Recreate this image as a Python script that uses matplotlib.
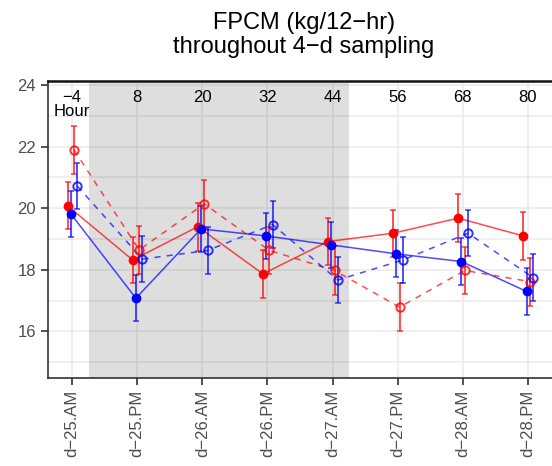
import matplotlib
matplotlib.use("Agg")
import matplotlib.pyplot as plt
import matplotlib.transforms as mtransforms
import numpy as np

plt.rcParams['font.family'] = ['Liberation Sans', 'DejaVu Sans']

# sampling times
days = ['d\u221225.AM', 'd\u221225.PM', 'd\u221226.AM', 'd\u221226.PM',
        'd\u221227.AM', 'd\u221227.PM', 'd\u221228.AM', 'd\u221228.PM']
hours = ['\u22124', '8', '20', '32', '44', '56', '68', '80']

# FPCM means and SE, four groups
red_solid = [20.08, 18.32, 19.40, 17.87, 18.92, 19.19, 19.68, 19.10]
red_solid_se = [0.76, 0.76, 0.78, 0.78, 0.75, 0.76, 0.78, 0.78]
blue_solid = [19.82, 17.08, 19.33, 19.10, 18.81, 18.52, 18.27, 17.30]
blue_solid_se = [0.75, 0.74, 0.75, 0.75, 0.74, 0.76, 0.77, 0.76]
red_open = [21.89, 18.65, 20.14, 18.63, 17.98, 16.79, 17.98, 17.62]
red_open_se = [0.77, 0.78, 0.78, 0.77, 0.78, 0.77, 0.77, 0.78]
blue_open = [20.72, 18.35, 18.63, 19.47, 17.67, 18.32, 19.19, 17.75]
blue_open_se = [0.75, 0.75, 0.76, 0.76, 0.75, 0.76, 0.75, 0.76]

x = np.arange(len(days))

fig = plt.figure(figsize=(5.52, 4.66), dpi=100)
ax = fig.add_axes([48 / 552, 1 - 377.7 / 466, 1 - 48 / 552, (377.7 - 81) / 466])

ax.set_xlim(-0.37, 7.37)
ax.set_ylim(14.5, 24.13)

# grid
ax.set_yticks([16, 18, 20, 22, 24])
ax.set_yticks([15, 17, 19, 21, 23], minor=True)
ax.set_xticks(x)
ax.set_xticklabels(days, rotation=90, fontsize=12, color='#4d4d4d')
ax.tick_params(axis='y', which='minor', length=0)
ax.grid(True, which='both', color='#ebebeb', linewidth=1.1, zorder=0)
ax.set_axisbelow(True)

# sampling window shading
ax.axvspan(0.26, 4.26, color='black', alpha=0.13, lw=0, zorder=1)

series = [
    (red_solid, red_solid_se, '#ff0000', '-', True, -0.07),
    (blue_solid, blue_solid_se, '#0000ff', '-', True, -0.02),
    (red_open, red_open_se, '#ff0000', '--', False, 0.03),
    (blue_open, blue_open_se, '#0000ff', '--', False, 0.08),
]
for vals, se, col, ls, filled, dx in series:
    xs = x + dx
    ax.plot(xs, vals, color=col, ls=ls, lw=1.1, alpha=0.7, zorder=3,
            dashes=(4, 4) if ls == '--' else (None, None))
    ax.errorbar(xs, vals, yerr=se, fmt='none', ecolor=col, elinewidth=1.3,
                capsize=2, capthick=1.1, alpha=0.75, zorder=4)
    if filled:
        ax.plot(xs, vals, 'o', color=col, ms=6, zorder=5)
    else:
        ax.plot(xs, vals, 'o', mfc='none', mec=col, mew=1.4, ms=6,
                alpha=0.8, zorder=5)

# hour labels along the top
trans = mtransforms.blended_transform_factory(ax.transData, ax.transAxes)
for xi, h in zip(x, hours):
    ax.text(xi, 0.946, h, transform=trans, ha='center', va='center',
            fontsize=12, color='black', zorder=6)
ax.text(x[0], 0.897, 'Hour', transform=trans, ha='center', va='center',
        fontsize=12, color='black', zorder=6)

ax.tick_params(axis='y', which='major', labelsize=12, labelcolor='#4d4d4d',
               length=5, width=1.2, color='#333333', pad=3.5)
ax.tick_params(axis='x', length=5, width=1.2, color='#333333', pad=4)

for s in ['left', 'bottom']:
    ax.spines[s].set_color('#333333')
    ax.spines[s].set_linewidth(1.2)
ax.spines['top'].set_color('#111111')
ax.spines['top'].set_linewidth(1.8)
ax.spines['right'].set_visible(False)

fig.text(304 / 552, 1 - 12 / 466, 'FPCM (kg/12\u2212hr)\nthroughout 4\u2212d sampling',
         ha='center', va='top', fontsize=17, linespacing=1.1)

fig.savefig('out.png', dpi=100)
